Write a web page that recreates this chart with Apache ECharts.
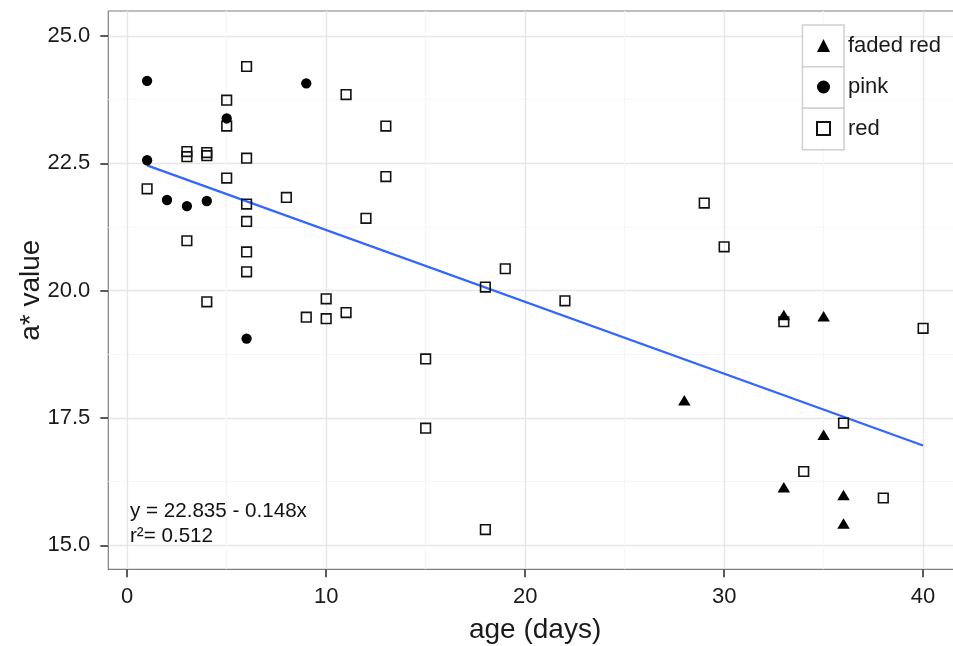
<!DOCTYPE html>
<html>
<head>
<meta charset="utf-8">
<script src="https://cdn.jsdelivr.net/npm/echarts@6/dist/echarts.min.js"></script>
<style>
html,body{margin:0;padding:0;background:#fff;}
#chart{width:953px;height:646px;}
</style>
</head>
<body>
<div id="chart"></div>
<script>
// ---- data ----
var seriesNames = ['faded red', 'pink', 'red'];
var fadedRed = [[28,17.85],[33,19.52],[35,19.50],[35,17.17],[33,16.14],[36,15.99],[36,15.43]];
var pink = [[1,24.12],[9,24.07],[5,23.38],[1,22.56],[2,21.78],[3,21.66],[4,21.76],[6,19.06]];
var red = [[6,24.40],[11,23.85],[5,23.74],[5,23.23],[13,23.23],[3,22.73],[3,22.63],[4,22.71],[4,22.65],
           [6,22.60],[5,22.21],[13,22.24],[1,22.00],[8,21.83],[6,21.70],[12,21.42],[6,21.36],[3,20.98],
           [6,20.76],[6,20.37],[4,19.78],[10,19.84],[9,19.48],[10,19.45],[11,19.57],[15,18.66],[15,17.30],
           [18,20.07],[19,20.43],[22,19.80],[18,15.31],[29,21.72],[30,20.86],[33,19.39],[40,19.26],
           [36,17.40],[34,16.45],[38,15.93]];
var fitX = [1, 40];
var fitY = [22.46, 16.96];
var xTicks = [0, 10, 20, 30, 40];
var xMinor = [5, 15, 25, 35];
var yTicks = [15.0, 17.5, 20.0, 22.5, 25.0];
var yMinor = [16.25, 18.75, 21.25, 23.75];
var xRange = [-0.95, 41.95];
var yRange = [14.53, 25.49];
var annotationText = 'y = 22.835 - 0.148x\nr\u00B2= 0.512';
var xTitle = 'age (days)';
var yTitle = 'a* value';

// ---- chart ----
var FONT = '"Liberation Sans", Arial, Helvetica, sans-serif';
var chart = echarts.init(document.getElementById('chart'), null, {renderer: 'canvas'});

var majorGrid = {color: '#e6e6e6', width: 1.4};
var minorGrid = {color: '#f5f5f5', width: 1.2};

function minorXAxis() {
  return {
    type: 'value', min: xRange[0], max: xRange[1], gridIndex: 0,
    axisLine: {show: false, onZero: false},
    axisTick: {show: false, customValues: xMinor},
    axisLabel: {show: false, customValues: xMinor},
    splitLine: {show: true, lineStyle: minorGrid}
  };
}
function minorYAxis() {
  return {
    type: 'value', min: yRange[0], max: yRange[1], gridIndex: 0,
    axisLine: {show: false, onZero: false},
    axisTick: {show: false, customValues: yMinor},
    axisLabel: {show: false, customValues: yMinor},
    splitLine: {show: true, lineStyle: minorGrid}
  };
}

var option = {
  backgroundColor: '#ffffff',
  animation: false,
  textStyle: {fontFamily: FONT},
  grid: {
    left: 108.3, top: 11, width: 853.6, bottom: 76.7,
    containLabel: false, outerBoundsMode: 'none',
    show: true, backgroundColor: '#ffffff', borderColor: '#7f7f7f', borderWidth: 1.2
  },
  xAxis: [minorXAxis(), {
    type: 'value', min: xRange[0], max: xRange[1], position: 'bottom',
    name: xTitle, nameLocation: 'middle', nameGap: 47, nameMoveOverlap: false,
    nameTextStyle: {fontSize: 28, color: '#1a1a1a', fontFamily: FONT},
    axisLine: {show: false, onZero: false},
    axisTick: {show: true, length: 8, customValues: xTicks, lineStyle: {color: '#333', width: 1.6}},
    axisLabel: {customValues: xTicks, fontSize: 22, color: '#1a1a1a', margin: 17, fontFamily: FONT,
      formatter: function (v) { return String(v); }},
    splitLine: {show: true, lineStyle: majorGrid}
  }],
  yAxis: [minorYAxis(), {
    type: 'value', min: yRange[0], max: yRange[1], position: 'left',
    name: yTitle, nameLocation: 'middle', nameGap: 63, nameRotate: 90, nameMoveOverlap: false,
    nameTextStyle: {fontSize: 28, color: '#1a1a1a', fontFamily: FONT},
    axisLine: {show: false, onZero: false},
    axisTick: {show: true, length: 8, customValues: yTicks, lineStyle: {color: '#333', width: 1.6}},
    axisLabel: {customValues: yTicks, fontSize: 22, color: '#1a1a1a', margin: 18, fontFamily: FONT,
      formatter: function (v) { return v.toFixed(1); }},
    splitLine: {show: true, lineStyle: majorGrid}
  }],
  legend: {
    orient: 'vertical', left: 811, top: 28.5, z: 20,
    itemWidth: 13, itemHeight: 13, itemGap: 17.5,
    data: seriesNames,
    textStyle: {fontSize: 22, color: '#1a1a1a', lineHeight: 24, fontFamily: FONT, padding: [0, 0, 0, 13]}
  },
  graphic: [
    {type: 'rect', left: 801.7, top: 24.3, z: 5, shape: {width: 41.6, height: 41.6}, style: {fill: '#fff', stroke: '#cfcfcf', lineWidth: 1.5}},
    {type: 'rect', left: 801.7, top: 65.9, z: 5, shape: {width: 41.6, height: 41.6}, style: {fill: '#fff', stroke: '#cfcfcf', lineWidth: 1.5}},
    {type: 'rect', left: 801.7, top: 107.5, z: 5, shape: {width: 41.6, height: 41.6}, style: {fill: '#fff', stroke: '#cfcfcf', lineWidth: 1.5}},
    {type: 'text', left: 130, top: 499, z: 5,
      style: {text: annotationText, fontSize: 20.6, lineHeight: 25, fill: '#111', font: '20.6px ' + FONT}}
  ],
  series: [
    {
      type: 'line', name: '_fit', silent: true, z: 2, symbol: 'none',
      xAxisIndex: 1, yAxisIndex: 1,
      data: fitX.map(function (x, i) { return [x, fitY[i]]; }),
      lineStyle: {color: '#3366FF', width: 2.2}
    },
    {
      type: 'scatter', name: 'red', data: red, z: 3,
      xAxisIndex: 1, yAxisIndex: 1,
      symbol: 'rect', symbolSize: 9.6,
      itemStyle: {color: 'rgba(0,0,0,0)', borderColor: '#111', borderWidth: 1.6, opacity: 1}
    },
    {
      type: 'scatter', name: 'pink', data: pink, z: 4,
      xAxisIndex: 1, yAxisIndex: 1,
      symbol: 'circle', symbolSize: 10.3,
      itemStyle: {color: '#000', opacity: 1}
    },
    {
      type: 'scatter', name: 'faded red', data: fadedRed, z: 4,
      xAxisIndex: 1, yAxisIndex: 1,
      symbol: 'triangle', symbolSize: [12.5, 10.5],
      itemStyle: {color: '#000', opacity: 1}
    }
  ]
};
chart.setOption(option);
</script>
</body>
</html>
